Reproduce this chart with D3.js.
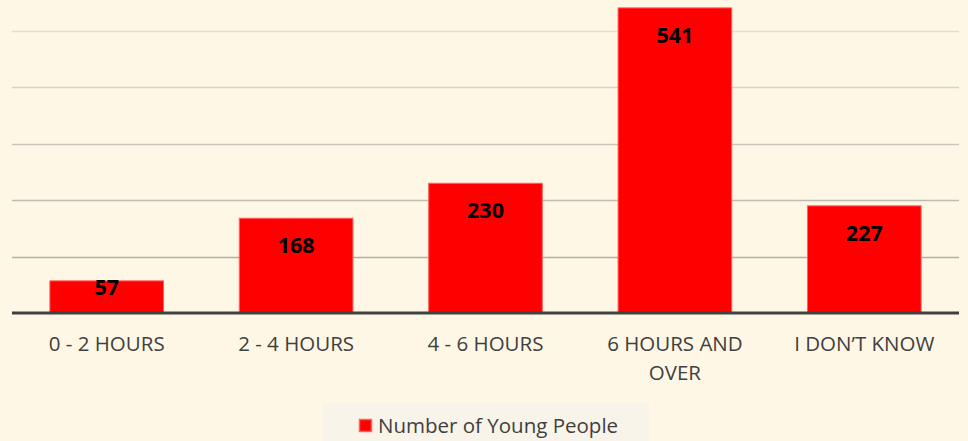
<!DOCTYPE html>
<html>
<head>
<meta charset="utf-8">
<script src="https://cdn.jsdelivr.net/npm/d3@7"></script>
<style>
  body { margin: 0; background: #fef7e6; }
  svg { display: block; font-family: "Open Sans", sans-serif; }
</style>
</head>
<body>
<svg></svg>
<script>
// data
let categories = ["0 - 2 HOURS", "2 - 4 HOURS", "4 - 6 HOURS", "6 HOURS AND|OVER", "I DON\u2019T KNOW"];
let barHeights = [57, 168, 230, 541, 190];   // heights as drawn in the picture
let dataLabels = ["57", "168", "230", "541", "227"]; // printed labels
let gridTicks = [100, 200, 300, 400, 500];
let seriesName = "Number of Young People";

let width = 968,
    height = 441;

let margin = { left: 12, right: 9, base: 313 };

let svg = d3.select("svg")
            .attr("width", width)
            .attr("height", height);

svg.append("rect")
   .attr("width", width)
   .attr("height", height)
   .attr("fill", "#fef7e6");

// scales
let xScale = d3.scaleBand()
              .domain(categories)
              .range([margin.left, width - margin.right])
              .paddingInner(0.4)
              .paddingOuter(0.2);

let yScale = d3.scaleLinear()
              .domain([0, 600])
              .range([margin.base, margin.base - 600 * 0.564]);

let gridColor = d3.scaleLinear()
                  .domain([100, 500])
                  .range(["#b4afa5", "#e2ddd1"]);

// gridlines
svg.append("g")
   .selectAll("line")
   .data(gridTicks)
   .enter()
   .append("line")
   .attr("x1", margin.left)
   .attr("x2", width - margin.right)
   .attr("y1", d => Math.round(yScale(d)) + 0.5)
   .attr("y2", d => Math.round(yScale(d)) + 0.5)
   .attr("stroke", d => gridColor(d))
   .attr("stroke-width", 1.5);

// bars
svg.append("g")
   .selectAll("rect")
   .data(barHeights)
   .enter()
   .append("rect")
   .attr("x", (d, i) => xScale(categories[i]))
   .attr("y", d => yScale(d))
   .attr("width", xScale.bandwidth())
   .attr("height", d => yScale(0) - yScale(d))
   .attr("fill", "#ff0000")
   .attr("stroke", "#ff6060")
   .attr("stroke-width", 1);

// data labels
svg.append("g")
   .selectAll("text")
   .data(barHeights)
   .enter()
   .append("text")
   .attr("x", (d, i) => xScale(categories[i]) + xScale.bandwidth() / 2)
   .attr("y", d => Math.min(yScale(d) + 35, yScale(0) - 18))
   .attr("text-anchor", "middle")
   .attr("font-size", 21.5)
   .attr("font-weight", "bold")
   .attr("fill", "#000")
   .text((d, i) => dataLabels[i]);

// x axis line
svg.append("line")
   .attr("x1", margin.left)
   .attr("x2", width - margin.right)
   .attr("y1", yScale(0))
   .attr("y2", yScale(0))
   .attr("stroke", "#404040")
   .attr("stroke-width", 3);

// category labels
let catLabels = svg.append("g")
   .selectAll("text")
   .data(categories)
   .enter()
   .append("text")
   .attr("x", d => xScale(d) + xScale.bandwidth() / 2)
   .attr("y", 351)
   .attr("text-anchor", "middle")
   .attr("font-size", 20.5)
   .attr("fill", "#404040");

catLabels.each(function(d) {
  let lines = d.split("|");
  let t = d3.select(this);
  lines.forEach((l, i) => {
    t.append("tspan")
     .attr("x", xScale(d) + xScale.bandwidth() / 2)
     .attr("dy", i === 0 ? 0 : 28.5)
     .text(l);
  });
});

// legend
let legend = svg.append("g");

legend.append("rect")
      .attr("x", 323)
      .attr("y", 403)
      .attr("width", 326)
      .attr("height", 40)
      .attr("fill", "#f8f4e9");

legend.append("rect")
      .attr("x", 359.5)
      .attr("y", 419.5)
      .attr("width", 12)
      .attr("height", 12)
      .attr("fill", "#ff0000")
      .attr("stroke", "#ff6060")
      .attr("stroke-width", 1.5);

legend.append("text")
      .attr("x", 378)
      .attr("y", 433)
      .attr("font-size", 20.5)
      .attr("fill", "#404040")
      .text(seriesName);
</script>
</body>
</html>
